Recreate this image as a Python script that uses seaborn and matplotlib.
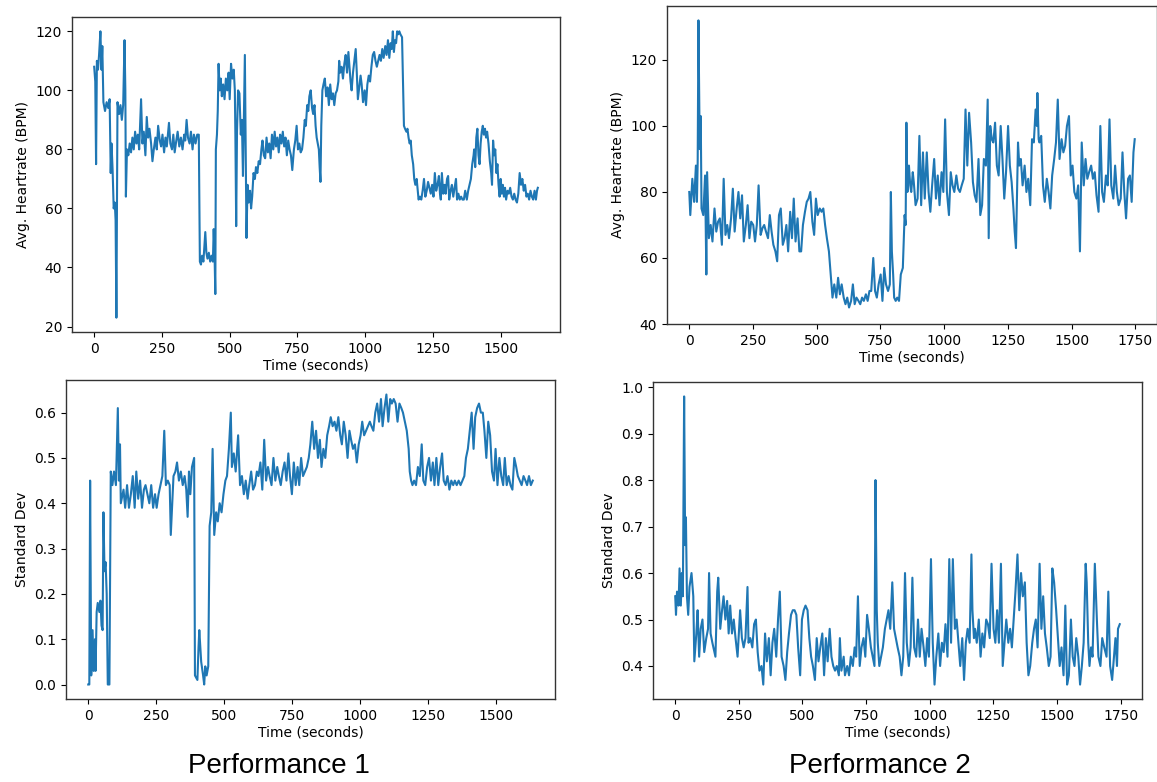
import matplotlib
matplotlib.use("Agg")
import matplotlib.pyplot as plt
import seaborn as sns
import numpy as np

# ---------------- Performance 1: average heart rate ----------------
p1_hr_t = [0, 4, 7, 10, 14, 18, 23, 27, 30, 34, 40, 46, 52, 57, 61, 64, 68, 72, 76, 79,
           82, 86, 92, 97, 102, 107, 112, 115, 117, 121, 126, 131, 136, 141, 146, 151, 156, 161, 166, 173,
           178, 183, 189, 194, 199, 204, 210, 215, 220, 226, 231, 236, 242, 247, 252, 258, 263, 268, 276, 281,
           287, 292, 297, 303, 308, 314, 320, 326, 332, 336, 341, 346, 352, 357, 363, 368, 374, 380, 386, 390,
           394, 398, 403, 407, 410, 414, 418, 423, 428, 433, 438, 441, 444, 447, 449, 453, 456, 459, 463, 467,
           471, 476, 481, 486, 491, 496, 500, 505, 510, 515, 519, 521, 524, 527, 531, 536, 541, 545, 549, 552,
           556, 559, 562, 566, 570, 575, 579, 583, 588, 593, 597, 602, 607, 612, 617, 621, 626, 631, 636, 641,
           646, 651, 656, 661, 666, 671, 676, 681, 686, 691, 696, 701, 706, 711, 716, 721, 726, 731, 737, 742,
           747, 752, 757, 762, 767, 772, 777, 781, 786, 790, 794, 799, 804, 808, 813, 817, 821, 825, 829, 832,
           835, 838, 842, 846, 851, 856, 861, 866, 871, 876, 881, 886, 891, 896, 901, 904, 908, 913, 918, 923,
           928, 933, 938, 942, 946, 950, 955, 960, 965, 969, 973, 978, 983, 987, 992, 998, 1003, 1008, 1013, 1018,
           1023, 1028, 1033, 1038, 1043, 1048, 1053, 1058, 1063, 1068, 1074, 1079, 1084, 1089, 1094, 1098, 1102, 1106, 1110, 1114,
           1118, 1122, 1126, 1130, 1136, 1140, 1143, 1147, 1152, 1156, 1160, 1164, 1168, 1172, 1177, 1181, 1185, 1190, 1194, 1197,
           1202, 1207, 1212, 1217, 1222, 1227, 1232, 1237, 1242, 1247, 1252, 1257, 1262, 1267, 1272, 1276, 1279, 1283, 1288, 1293,
           1297, 1302, 1306, 1310, 1315, 1320, 1325, 1330, 1335, 1339, 1344, 1349, 1354, 1359, 1364, 1369, 1375, 1380, 1385, 1390,
           1395, 1400, 1402, 1406, 1410, 1414, 1418, 1422, 1426, 1430, 1434, 1438, 1442, 1446, 1450, 1455, 1460, 1465, 1468, 1472,
           1476, 1480, 1484, 1488, 1492, 1496, 1500, 1504, 1508, 1512, 1516, 1520, 1525, 1530, 1535, 1540, 1545, 1550, 1555, 1560,
           1565, 1570, 1575, 1580, 1585, 1590, 1595, 1600, 1605, 1610, 1615, 1620, 1625, 1630, 1634, 1637]
p1_hr_v = [108, 103, 75, 110, 107, 112, 120, 107, 115, 96, 93, 96, 94, 97, 72, 82, 73, 60, 62, 56,
           23, 96, 92, 95, 90, 95, 117, 100, 64, 80, 78, 82, 79, 84, 80, 86, 82, 85, 80, 97,
           82, 86, 78, 91, 84, 87, 82, 76, 80, 84, 80, 88, 83, 81, 85, 79, 84, 81, 89, 82,
           80, 85, 79, 83, 86, 81, 84, 80, 85, 83, 90, 84, 82, 86, 80, 85, 82, 85, 85, 42,
           41, 44, 42, 48, 52, 45, 43, 45, 42, 44, 42, 53, 45, 31, 80, 85, 93, 109, 100, 104,
           98, 102, 97, 104, 100, 106, 97, 109, 104, 107, 100, 85, 54, 86, 100, 99, 85, 90, 71, 88,
           112, 80, 50, 68, 62, 66, 60, 64, 72, 70, 74, 72, 76, 75, 80, 83, 78, 77, 84, 79,
           82, 77, 85, 80, 86, 81, 84, 79, 85, 82, 86, 81, 84, 78, 83, 80, 78, 73, 80, 83,
           88, 80, 82, 79, 80, 84, 90, 88, 95, 93, 98, 100, 94, 92, 95, 88, 84, 82, 80, 74,
           69, 88, 100, 102, 104, 98, 101, 95, 102, 97, 99, 95, 99, 100, 103, 110, 106, 108, 104, 109,
           112, 106, 113, 108, 103, 100, 106, 110, 114, 106, 97, 101, 105, 102, 96, 100, 95, 102, 105, 103,
           108, 112, 113, 110, 108, 110, 112, 110, 114, 111, 115, 112, 117, 111, 116, 114, 120, 113, 117, 116,
           120, 119, 120, 119, 118, 100, 88, 87, 86, 87, 84, 82, 83, 78, 75, 70, 68, 70, 66, 63,
           64, 63, 66, 70, 64, 66, 69, 67, 65, 68, 64, 72, 66, 68, 71, 65, 63, 72, 65, 68,
           65, 70, 71, 63, 66, 68, 64, 67, 70, 63, 65, 63, 64, 63, 63, 66, 63, 66, 68, 70,
           75, 78, 80, 74, 84, 87, 78, 75, 82, 86, 88, 85, 87, 84, 86, 82, 76, 72, 68, 83,
           78, 80, 72, 75, 68, 64, 70, 65, 68, 64, 67, 63, 66, 65, 67, 64, 63, 65, 63, 62,
           65, 72, 68, 70, 66, 68, 64, 65, 63, 66, 64, 63, 66, 63, 66, 67]

# ---------------- Performance 2: average heart rate ----------------
p2_hr_t = [0, 4, 12, 19, 26, 30, 33, 36, 41, 45, 48, 55, 62, 67, 70, 77, 84, 91, 99, 106,
           113, 120, 128, 135, 142, 149, 156, 164, 171, 178, 186, 193, 200, 207, 214, 222, 229, 236, 243, 251,
           258, 265, 272, 280, 287, 294, 301, 309, 316, 323, 330, 338, 345, 352, 359, 367, 374, 381, 388, 396,
           403, 410, 417, 425, 432, 439, 446, 454, 461, 468, 475, 483, 490, 497, 504, 512, 519, 526, 533, 540,
           548, 555, 562, 569, 577, 584, 591, 598, 606, 613, 620, 627, 635, 642, 649, 656, 664, 671, 678, 685,
           693, 700, 707, 714, 722, 729, 736, 743, 751, 758, 765, 772, 780, 787, 791, 795, 800, 804, 810, 816,
           823, 830, 838, 845, 849, 852, 856, 862, 867, 871, 877, 881, 888, 896, 903, 910, 917, 924, 932, 939,
           946, 953, 961, 968, 975, 982, 990, 997, 1004, 1011, 1019, 1026, 1033, 1040, 1048, 1055, 1062, 1069, 1077, 1084,
           1091, 1098, 1106, 1113, 1120, 1127, 1135, 1142, 1149, 1156, 1164, 1171, 1175, 1181, 1187, 1193, 1200, 1207, 1214, 1222,
           1229, 1236, 1243, 1251, 1258, 1265, 1272, 1277, 1282, 1290, 1295, 1301, 1308, 1316, 1323, 1330, 1338, 1345, 1352, 1359,
           1364, 1366, 1371, 1374, 1381, 1388, 1395, 1403, 1410, 1417, 1424, 1432, 1439, 1446, 1453, 1461, 1468, 1475, 1482, 1490,
           1497, 1504, 1511, 1519, 1526, 1530, 1533, 1537, 1540, 1548, 1555, 1562, 1569, 1577, 1584, 1591, 1598, 1606, 1613, 1620,
           1627, 1635, 1642, 1649, 1656, 1664, 1671, 1678, 1685, 1693, 1700, 1707, 1714, 1722, 1729, 1736, 1743, 1748]
p2_hr_v = [80, 73, 84, 77, 88, 77, 89, 132, 93, 103, 75, 73, 85, 55, 86, 66, 70, 65, 75, 68,
           71, 72, 64, 84, 67, 70, 66, 72, 81, 68, 75, 80, 72, 79, 65, 70, 76, 66, 71, 70,
           65, 70, 82, 67, 69, 70, 68, 66, 73, 68, 64, 62, 59, 73, 75, 64, 66, 70, 62, 74,
           66, 78, 65, 72, 62, 62, 70, 74, 77, 78, 80, 71, 67, 78, 73, 75, 74, 75, 70, 66,
           62, 55, 48, 52, 48, 54, 49, 52, 48, 46, 48, 45, 47, 52, 46, 48, 47, 46, 48, 47,
           49, 47, 50, 50, 60, 50, 48, 52, 55, 47, 57, 52, 50, 52, 80, 62, 55, 48, 47, 48,
           47, 55, 57, 73, 70, 101, 80, 88, 82, 80, 86, 83, 76, 78, 97, 76, 92, 78, 92, 80,
           74, 82, 90, 78, 85, 76, 86, 80, 102, 80, 73, 86, 82, 80, 85, 81, 80, 82, 84, 105,
           88, 104, 95, 83, 79, 77, 90, 73, 76, 90, 88, 108, 66, 100, 96, 95, 101, 88, 85, 100,
           90, 78, 86, 100, 88, 83, 75, 68, 63, 95, 88, 90, 82, 88, 80, 84, 76, 96, 95, 105,
           100, 110, 96, 95, 97, 82, 77, 84, 80, 75, 85, 90, 95, 108, 90, 96, 92, 94, 100, 103,
           85, 88, 80, 78, 82, 70, 62, 80, 95, 82, 90, 84, 86, 88, 84, 86, 79, 74, 100, 80,
           77, 85, 82, 102, 82, 78, 88, 80, 76, 78, 92, 80, 72, 84, 85, 77, 92, 96]

# ---------------- Performance 1: standard deviation ----------------
p1_sd_t = [0, 4, 7, 11, 16, 20, 25, 27, 31, 35, 41, 45, 49, 53, 56, 60, 64, 68, 72, 78,
           80, 83, 89, 95, 102, 109, 113, 117, 120, 130, 136, 143, 150, 157, 164, 171, 177, 184, 191, 198,
           205, 211, 218, 225, 232, 239, 246, 252, 259, 266, 273, 280, 286, 293, 300, 304, 310, 314, 321, 327,
           334, 341, 348, 355, 361, 366, 371, 376, 382, 390, 393, 402, 406, 409, 416, 423, 427, 431, 436, 442,
           447, 453, 458, 464, 471, 477, 484, 491, 498, 505, 511, 518, 525, 529, 536, 543, 552, 559, 566, 573,
           580, 587, 593, 600, 607, 614, 621, 627, 634, 641, 648, 655, 662, 668, 675, 682, 689, 696, 702, 709,
           716, 723, 730, 737, 743, 750, 757, 764, 771, 777, 784, 791, 798, 805, 812, 818, 825, 832, 839, 846,
           853, 859, 866, 873, 880, 887, 893, 900, 907, 914, 921, 928, 934, 941, 948, 955, 962, 968, 975, 982,
           989, 996, 1003, 1009, 1016, 1023, 1030, 1037, 1043, 1050, 1057, 1064, 1071, 1078, 1084, 1091, 1098, 1105, 1112, 1118,
           1125, 1132, 1139, 1146, 1153, 1159, 1166, 1173, 1180, 1184, 1189, 1194, 1200, 1207, 1214, 1221, 1228, 1234, 1241, 1248,
           1255, 1262, 1269, 1275, 1282, 1289, 1296, 1303, 1309, 1316, 1323, 1330, 1337, 1344, 1350, 1357, 1364, 1371, 1378, 1385,
           1391, 1398, 1405, 1412, 1419, 1425, 1432, 1439, 1446, 1453, 1459, 1466, 1473, 1480, 1487, 1494, 1500, 1507, 1514, 1521,
           1528, 1534, 1541, 1548, 1555, 1562, 1569, 1576, 1582, 1589, 1596, 1603, 1610, 1616, 1623, 1630, 1637]
p1_sd_v = [0.0, 0.0, 0.45, 0.02, 0.12, 0.03, 0.10, 0.03, 0.16, 0.18, 0.16, 0.185, 0.13, 0.12, 0.38, 0.25, 0.27, 0.20, 0.0, 0.0,
           0.20, 0.47, 0.44, 0.47, 0.44, 0.61, 0.45, 0.53, 0.40, 0.43, 0.39, 0.44, 0.39, 0.42, 0.46, 0.39, 0.47, 0.41, 0.45, 0.39,
           0.43, 0.44, 0.42, 0.40, 0.44, 0.39, 0.42, 0.39, 0.42, 0.44, 0.46, 0.56, 0.44, 0.45, 0.44, 0.33, 0.41, 0.46, 0.47, 0.49,
           0.45, 0.47, 0.44, 0.46, 0.43, 0.37, 0.47, 0.42, 0.48, 0.50, 0.02, 0.01, 0.08, 0.12, 0.05, 0.02, 0.0, 0.04, 0.02, 0.04,
           0.35, 0.38, 0.52, 0.33, 0.38, 0.36, 0.40, 0.38, 0.42, 0.45, 0.46, 0.52, 0.60, 0.48, 0.51, 0.47, 0.55, 0.44, 0.46, 0.42,
           0.45, 0.41, 0.44, 0.47, 0.43, 0.44, 0.47, 0.46, 0.49, 0.43, 0.54, 0.45, 0.48, 0.46, 0.44, 0.50, 0.45, 0.48, 0.46, 0.44,
           0.47, 0.49, 0.45, 0.51, 0.46, 0.42, 0.49, 0.44, 0.48, 0.44, 0.50, 0.46, 0.47, 0.48, 0.50, 0.53, 0.58, 0.52, 0.56, 0.50,
           0.54, 0.48, 0.52, 0.50, 0.55, 0.57, 0.59, 0.57, 0.58, 0.56, 0.59, 0.55, 0.53, 0.58, 0.55, 0.50, 0.56, 0.54, 0.52, 0.53,
           0.49, 0.53, 0.55, 0.58, 0.55, 0.56, 0.57, 0.58, 0.57, 0.56, 0.60, 0.62, 0.58, 0.63, 0.57, 0.61, 0.64, 0.58, 0.63, 0.62,
           0.63, 0.62, 0.58, 0.62, 0.61, 0.60, 0.58, 0.56, 0.52, 0.47, 0.45, 0.44, 0.45, 0.44, 0.48, 0.46, 0.53, 0.45, 0.44, 0.48,
           0.50, 0.45, 0.49, 0.44, 0.50, 0.44, 0.48, 0.51, 0.45, 0.44, 0.46, 0.43, 0.45, 0.44, 0.45, 0.44, 0.45, 0.44, 0.45, 0.46,
           0.50, 0.52, 0.56, 0.60, 0.52, 0.59, 0.61, 0.62, 0.60, 0.60, 0.56, 0.50, 0.58, 0.55, 0.47, 0.45, 0.52, 0.44, 0.50, 0.46,
           0.44, 0.50, 0.44, 0.46, 0.44, 0.43, 0.50, 0.48, 0.46, 0.45, 0.44, 0.46, 0.45, 0.44, 0.46, 0.44, 0.45]

# ---------------- Performance 2: standard deviation ----------------
p2_sd_t = [0, 3, 7, 13, 17, 22, 26, 30, 35, 39, 42, 46, 51, 56, 64, 71, 75, 83, 88, 94,
           100, 107, 114, 122, 129, 133, 139, 146, 158, 165, 169, 177, 184, 190, 197, 204, 210, 216, 223, 230,
           237, 245, 255, 262, 269, 276, 284, 288, 295, 303, 310, 317, 324, 331, 339, 346, 353, 360, 368, 375,
           382, 389, 397, 404, 411, 418, 426, 433, 440, 447, 455, 462, 469, 476, 483, 491, 498, 505, 512, 520,
           527, 534, 541, 549, 556, 563, 570, 578, 585, 592, 599, 607, 614, 621, 628, 635, 643, 647, 653, 662,
           667, 676, 683, 690, 698, 705, 711, 718, 725, 732, 740, 747, 754, 761, 769, 776, 783, 787, 792, 796,
           802, 809, 816, 824, 831, 838, 845, 853, 860, 867, 874, 882, 889, 896, 903, 910, 918, 925, 932, 939,
           947, 954, 961, 968, 976, 983, 990, 997, 1005, 1012, 1019, 1026, 1034, 1041, 1048, 1055, 1062, 1070, 1077, 1084,
           1091, 1099, 1106, 1113, 1120, 1128, 1135, 1142, 1149, 1157, 1164, 1168, 1174, 1178, 1185, 1193, 1200, 1207, 1214, 1222,
           1229, 1236, 1243, 1251, 1258, 1265, 1272, 1280, 1287, 1294, 1301, 1309, 1316, 1323, 1330, 1337, 1345, 1352, 1359, 1366,
           1374, 1381, 1388, 1395, 1403, 1410, 1417, 1424, 1432, 1439, 1446, 1453, 1460, 1468, 1475, 1482, 1489, 1497, 1504, 1511,
           1518, 1526, 1533, 1540, 1547, 1555, 1562, 1569, 1576, 1584, 1591, 1598, 1605, 1613, 1617, 1623, 1628, 1634, 1640, 1649,
           1657, 1663, 1671, 1678, 1686, 1695, 1702, 1709, 1717, 1724, 1730, 1736, 1740, 1747]
p2_sd_v = [0.55, 0.51, 0.56, 0.53, 0.61, 0.53, 0.60, 0.55, 0.98, 0.66, 0.72, 0.55, 0.51, 0.57, 0.60, 0.55, 0.41, 0.47, 0.52, 0.42,
           0.48, 0.50, 0.43, 0.46, 0.48, 0.60, 0.47, 0.45, 0.42, 0.56, 0.59, 0.48, 0.52, 0.55, 0.50, 0.54, 0.47, 0.53, 0.47, 0.50,
           0.46, 0.42, 0.52, 0.46, 0.44, 0.46, 0.57, 0.45, 0.46, 0.44, 0.49, 0.50, 0.43, 0.39, 0.40, 0.36, 0.47, 0.41, 0.46, 0.38,
           0.45, 0.48, 0.42, 0.50, 0.56, 0.42, 0.40, 0.37, 0.43, 0.47, 0.51, 0.52, 0.52, 0.51, 0.44, 0.38, 0.50, 0.52, 0.53, 0.52,
           0.46, 0.42, 0.40, 0.37, 0.46, 0.41, 0.44, 0.47, 0.38, 0.46, 0.41, 0.48, 0.42, 0.40, 0.39, 0.40, 0.38, 0.46, 0.39, 0.42,
           0.38, 0.40, 0.38, 0.42, 0.40, 0.44, 0.42, 0.55, 0.40, 0.44, 0.46, 0.42, 0.51, 0.48, 0.44, 0.42, 0.40, 0.80, 0.52, 0.45,
           0.40, 0.42, 0.44, 0.48, 0.50, 0.52, 0.48, 0.58, 0.48, 0.46, 0.44, 0.42, 0.38, 0.42, 0.60, 0.45, 0.40, 0.44, 0.59, 0.44,
           0.42, 0.50, 0.42, 0.48, 0.44, 0.40, 0.46, 0.42, 0.63, 0.45, 0.36, 0.42, 0.47, 0.40, 0.45, 0.43, 0.49, 0.42, 0.63, 0.45,
           0.63, 0.48, 0.50, 0.45, 0.40, 0.46, 0.37, 0.45, 0.48, 0.45, 0.64, 0.52, 0.46, 0.48, 0.45, 0.50, 0.42, 0.47, 0.44, 0.50,
           0.49, 0.46, 0.62, 0.48, 0.45, 0.52, 0.45, 0.62, 0.40, 0.45, 0.50, 0.45, 0.48, 0.44, 0.50, 0.56, 0.64, 0.52, 0.60, 0.55,
           0.58, 0.45, 0.38, 0.40, 0.45, 0.48, 0.50, 0.44, 0.62, 0.48, 0.55, 0.47, 0.44, 0.40, 0.42, 0.61, 0.58, 0.52, 0.46, 0.40,
           0.44, 0.38, 0.53, 0.36, 0.38, 0.50, 0.42, 0.40, 0.46, 0.42, 0.36, 0.40, 0.45, 0.62, 0.58, 0.45, 0.40, 0.44, 0.42, 0.62,
           0.50, 0.42, 0.40, 0.46, 0.44, 0.42, 0.56, 0.40, 0.37, 0.42, 0.46, 0.40, 0.48, 0.49]

panel_titles = ["Performance 1", "Performance 2"]
hr_label = "Avg. Heartrate (BPM)"
sd_label = "Standard Dev"
x_label = "Time (seconds)"

plt.rcParams["font.family"] = ["DejaVu Sans"]
plt.rcParams["font.size"] = 10
line_color = "#1f77b4"

W, H = 1157, 782
fig = plt.figure(figsize=(W / 100, H / 100), dpi=100)


def px_axes(left, top, right, bottom):
    return fig.add_axes([left / W, 1 - bottom / H, (right - left) / W, (bottom - top) / H])


panels = [
    (px_axes(72, 17, 560, 332), p1_hr_t, p1_hr_v, hr_label),
    (px_axes(667, 6, 1157, 324), p2_hr_t, p2_hr_v, hr_label),
    (px_axes(66, 380, 555, 699), p1_sd_t, p1_sd_v, sd_label),
    (px_axes(653, 382, 1142, 699), p2_sd_t, p2_sd_v, sd_label),
]

for ax, t, v, ylab in panels:
    sns.lineplot(x=np.array(t, dtype=float), y=np.array(v, dtype=float), ax=ax,
                 color=line_color, linewidth=1.5, sort=False, estimator=None)
    ax.set_xlabel(x_label, fontsize=10, labelpad=2)
    ax.set_ylabel(ylab, fontsize=10)
    ax.tick_params(labelsize=10)
    for s in ax.spines.values():
        s.set_color("#333333")
        s.set_linewidth(1.0)

panels[0][0].set_yticks([20, 40, 60, 80, 100, 120])
panels[1][0].set_yticks([40, 60, 80, 100, 120])
panels[2][0].set_yticks([0.0, 0.1, 0.2, 0.3, 0.4, 0.5, 0.6])
panels[3][0].set_yticks([0.4, 0.5, 0.6, 0.7, 0.8, 0.9, 1.0])

for xc, title in zip([279, 880], panel_titles):
    fig.text(xc / W, 1 - 766 / H, title, ha="center", va="center",
             fontsize=20, family=["Liberation Sans", "DejaVu Sans"])

fig.savefig("out.png", dpi=100)
